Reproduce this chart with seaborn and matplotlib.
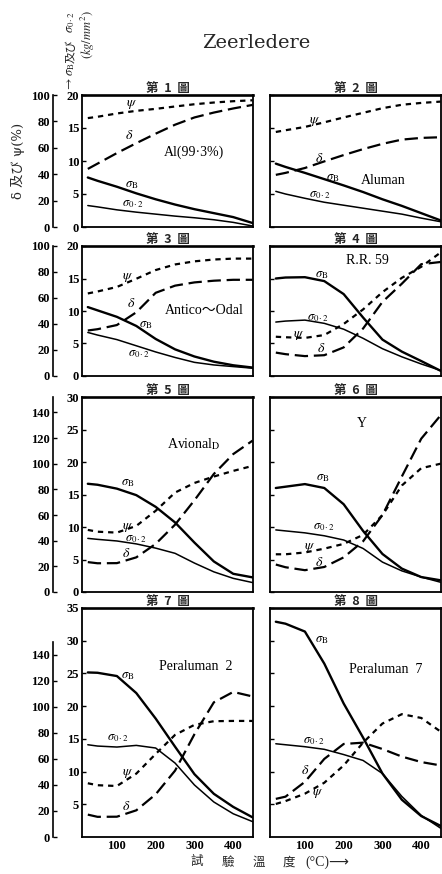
import numpy as np
import seaborn as sns
import matplotlib.pyplot as plt

# test temperatures (°C), same grid for every curve
temps = [25, 50, 100, 150, 200, 250, 300, 350, 400, 450]

# 第1圖  Al(99.3%)
al_sb = [7.5, 7.0, 6.1, 5.1, 4.2, 3.4, 2.7, 2.1, 1.5, 0.6]
al_s02 = [3.25, 3.05, 2.6, 2.25, 1.95, 1.65, 1.4, 1.1, 0.7, 0.15]
al_psi = [82.5, 83.5, 86, 88, 89.5, 91.3, 93, 94.3, 95.3, 96]
al_delta = [44, 48, 56, 63.5, 70.7, 77.5, 83, 86.7, 89.8, 92.5]

# 第2圖  Aluman
alu_sb = [9.6, 9.1, 8.2, 7.25, 6.3, 5.3, 4.2, 3.2, 2.1, 1.0]
alu_s02 = [5.4, 5.0, 4.35, 3.75, 3.3, 2.85, 2.4, 1.95, 1.35, 0.8]
alu_psi = [72, 73.3, 75.8, 79.3, 83, 86.5, 90, 92.6, 94, 95]
alu_delta = [39.5, 41, 44.7, 49.7, 54.5, 59, 63, 66.2, 67.5, 68]

# 第3圖  Antico~Odal
ant_sb = [10.6, 10.1, 9.1, 7.7, 5.7, 4.1, 3.0, 2.2, 1.65, 1.3]
ant_s02 = [6.7, 6.3, 5.6, 4.65, 3.7, 2.85, 2.1, 1.7, 1.45, 1.2]
ant_psi = [63.5, 65, 68.5, 74.8, 81.5, 85.8, 88.2, 89.6, 90.3, 90.3]
ant_delta = [35, 36, 39.2, 49, 64, 69.5, 72, 73.3, 74, 74]

# 第4圖  R.R. 59
rr_sb = [15, 15.15, 15.2, 14.6, 12.6, 9.0, 5.6, 3.75, 2.3, 0.8]
rr_s02 = [8.3, 8.45, 8.6, 8.1, 7.2, 5.8, 4.2, 2.95, 1.85, 0.85]
rr_psi = [30.2, 29.8, 29.3, 31.5, 40, 51.2, 64.5, 75.5, 84, 95]
rr_delta = [18, 16.8, 15.3, 16, 22, 36.5, 57, 71, 86, 87.7]

# 第5圖  Avional D
av_sb = [16.65, 16.5, 15.9, 14.9, 13.1, 10.7, 7.6, 4.7, 2.8, 2.25]
av_s02 = [8.25, 8.1, 7.85, 7.4, 6.75, 5.95, 4.45, 3.1, 2.1, 1.45]
av_psi = [48.4, 47, 46.3, 51.5, 63.3, 77.5, 85, 90, 94.4, 98.3]
av_delta = [23.3, 22.4, 22.5, 27, 37.5, 52.5, 71.5, 92, 107.5, 118]

# 第6圖  Y
y_sb = [16, 16.2, 16.6, 16.0, 13.5, 9.4, 5.85, 3.6, 2.3, 1.8]
y_s02 = [9.55, 9.4, 9.1, 8.65, 8.0, 6.7, 4.6, 3.25, 2.3, 1.5]
y_psi = [29.4, 29.4, 30.8, 33.8, 37.5, 44.5, 60, 83, 96.5, 100]
y_delta = [21.4, 19.3, 17, 19.5, 27, 39.5, 60, 90, 119.5, 137.7]

# 第7圖  Peraluman 2
p2_sb = [25.15, 25.1, 24.6, 22, 18.1, 13.8, 9.6, 6.6, 4.6, 3.0]
p2_s02 = [14.1, 13.9, 13.75, 14.0, 13.6, 11.3, 7.95, 5.35, 3.55, 2.35]
p2_psi = [41.3, 39.8, 39.2, 48.7, 63.8, 78.5, 86.2, 89, 89.2, 89.2]
p2_delta = [17.2, 15.5, 15.6, 20.5, 32.8, 51, 79, 103.5, 111.5, 108]

# 第8圖  Peraluman 7
p7_sb = [32.9, 32.6, 31.4, 26.5, 20.4, 15.2, 9.7, 5.7, 3.2, 1.7]
p7_s02 = [14.25, 14.1, 13.8, 13.4, 12.6, 11.7, 9.7, 6.2, 3.3, 1.35]
p7_psi = [25.4, 27.6, 33.3, 41.7, 55, 72.5, 87.2, 94.4, 91.5, 81]
p7_delta = [29.3, 31, 42.4, 60, 71.5, 72.5, 67.6, 61.8, 57.6, 55]

x_ticks = [100, 200, 300, 400]
inner_max = [20, 20, 30, 35]
outer_max = [100, 100, 152, 176]
outer_top_tick = [100, 100, 140, 140]

panels = [
    (1, al_sb, al_s02, al_psi, al_delta),
    (2, alu_sb, alu_s02, alu_psi, alu_delta),
    (3, ant_sb, ant_s02, ant_psi, ant_delta),
    (4, rr_sb, rr_s02, rr_psi, rr_delta),
    (5, av_sb, av_s02, av_psi, av_delta),
    (6, y_sb, y_s02, y_psi, y_delta),
    (7, p2_sb, p2_s02, p2_psi, p2_delta),
    (8, p7_sb, p7_s02, p7_psi, p7_delta),
]

# curve labels, in (°C, kg/mm2) of each panel
SB, S02 = r"$\sigma_{\rm B}$", r"$\sigma_{0\cdot2}$"
PSI, DEL = r"$\psi$", r"$\delta$"
notes = {
    1: [(PSI, 137, 18.5), (DEL, 133, 13.9), (SB, 137, 6.4), (S02, 141, 3.5), ("Al(99·3%)", 299, 11.4)],
    2: [(PSI, 126, 16), (DEL, 138, 10.4), (SB, 173, 7.5), (S02, 138, 4.8), ("Aluman", 301, 7.1)],
    3: [(PSI, 128, 15.2), (DEL, 137, 11.1), (SB, 175, 7.8), (S02, 158, 3.4), ("Antico〜Odal", 325, 10.1)],
    4: [("R.R. 59", 262, 17.7), (SB, 143, 15.5), (S02, 134, 9.0), (PSI, 83, 6.3), (DEL, 143, 4.3)],
    5: [(SB, 128, 16.8), (PSI, 128, 10), (S02, 150, 8.2), (DEL, 124, 5.9), (r"Avional$_{\rm D}$", 299, 22.7)],
    6: [("Y", 248, 26), (SB, 147, 17.6), (S02, 150, 10), (PSI, 112, 6.9), (DEL, 137, 4.6)],
    7: [(SB, 128, 24.6), (S02, 103, 15.1), (PSI, 128, 9.7), (DEL, 124, 4.6), ("Peraluman  2", 304, 26)],
    8: [(SB, 143, 30.1), (S02, 124, 14.7), (DEL, 100, 10.2), (PSI, 134, 6.6), ("Peraluman  7", 309, 25.6)],
}

sns.set_style("white")
plt.rcParams['font.family'] = ['Liberation Serif', 'Noto Sans CJK TC', 'DejaVu Sans']
plt.rcParams['mathtext.fontset'] = 'stix'

W, H = 442, 874
fig = plt.figure(figsize=(W / 100, H / 100), dpi=100)
fig.patch.set_facecolor('white')

def rect(x0, y0, x1, y1):
    return [x0 / W, 1 - y1 / H, (x1 - x0) / W, (y1 - y0) / H]

col_x = [(82, 253), (270, 441)]
row_y = [(95, 227), (246, 376), (397, 592), (608, 837)]
cjk = ['Noto Sans CJK TC']

for no, sb, s02, psi, delta in panels:
    r, c = (no - 1) // 2, (no - 1) % 2
    ax = fig.add_axes(rect(col_x[c][0], row_y[r][0], col_x[c][1], row_y[r][1]))
    ax2 = ax.twinx()

    sns.lineplot(x=temps, y=sb, ax=ax, color='black', linewidth=1.7)
    sns.lineplot(x=temps, y=s02, ax=ax, color='black', linewidth=1.1)
    sns.lineplot(x=temps, y=psi, ax=ax2, color='black', linewidth=1.6,
                 linestyle=(0, (2.4, 2.2)))
    sns.lineplot(x=temps, y=delta, ax=ax2, color='black', linewidth=1.6,
                 linestyle=(0, (6, 2.6)))

    ax.set_xlim(10, 451)
    ax.set_ylim(0, inner_max[r])
    ax2.set_ylim(0, outer_max[r])
    ax.set_xlabel('')
    ax.set_ylabel('')
    ax2.set_ylabel('')

    for s in ax.spines.values():
        s.set_color('black')
        s.set_linewidth(1.3)
    ax.spines['top'].set_linewidth(1.9)

    ax.set_xticks(x_ticks)
    if r == 3:
        yt = list(range(5, inner_max[r] + 1, 5))
    else:
        yt = list(range(0, inner_max[r] + 1, 5))
    ax.set_yticks(yt)
    ax.tick_params(direction='in', length=3, width=1, colors='black', pad=2)
    ax.tick_params(axis='x', labelbottom=(r == 3), labelsize=9)
    ax.tick_params(axis='y', labelleft=(c == 0), labelsize=9)
    for lab in ax.get_xticklabels() + ax.get_yticklabels():
        lab.set_fontweight('bold')

    for s in ['right', 'top', 'bottom']:
        ax2.spines[s].set_visible(False)
    if c == 0:
        ax2.yaxis.set_ticks_position('left')
        ax2.spines['left'].set_position(('axes', -0.17))
        ax2.spines['left'].set_visible(True)
        ax2.spines['left'].set_color('black')
        ax2.spines['left'].set_linewidth(1.2)
        ax2.set_yticks(list(range(0, outer_top_tick[r] + 1, 20)))
        if r == 3:
            ax2.spines['left'].set_bounds(0, 150)
        ax2.tick_params(axis='y', direction='in', length=3, width=1,
                        colors='black', labelsize=9, pad=2)
        for lab in ax2.get_yticklabels():
            lab.set_fontweight('bold')
    else:
        ax2.spines['left'].set_visible(False)
        ax2.set_yticks([])

    ax.set_title(f"第  {no}  圖", fontsize=9, fontweight='bold', family=cjk, pad=1.5)

    for txt, tx, ty in notes[no]:
        fs = 9 if txt in (SB, S02) else 10
        ax.text(tx, ty, txt, ha='center', va='center', fontsize=fs, color='black')

# headings and axis captions
fig.text(256 / W, 1 - 43 / H, "Zeerledere", fontsize=14, family=['DejaVu Serif'],
         ha='center', va='center')
fig.text(18 / W, 1 - 161 / H, "δ 及び ψ(%)", rotation=90, fontsize=9.5,
         family=['DejaVu Serif', 'Noto Sans CJK JP'], ha='center', va='center')
fig.text(71 / W, 1 - 77 / H, r"$\rightarrow\sigma_{\rm B}$", rotation=90, fontsize=9,
         ha='center', va='center')
fig.text(71 / W, 1 - 51 / H, "及び", rotation=90, fontsize=8.5, family=['Noto Sans CJK JP'],
         ha='center', va='center')
fig.text(71 / W, 1 - 22 / H, r"$\sigma_{0\cdot2}$", rotation=90, fontsize=9,
         ha='center', va='center')
fig.text(88 / W, 1 - 35 / H, r"$(kg/mm^2)$", rotation=90, fontsize=9,
         ha='center', va='center')

for ch, px in zip("試驗溫度", [197, 228, 259, 289]):
    fig.text(px / W, 1 - 862 / H, ch, fontsize=9, family=cjk, ha='center', va='center')
fig.text(305 / W, 1 - 862 / H, "(°C)⟶", fontsize=10,
         family=['Liberation Serif', 'DejaVu Sans'], ha='left', va='center')

fig.savefig("out.png", dpi=100, facecolor='white')
